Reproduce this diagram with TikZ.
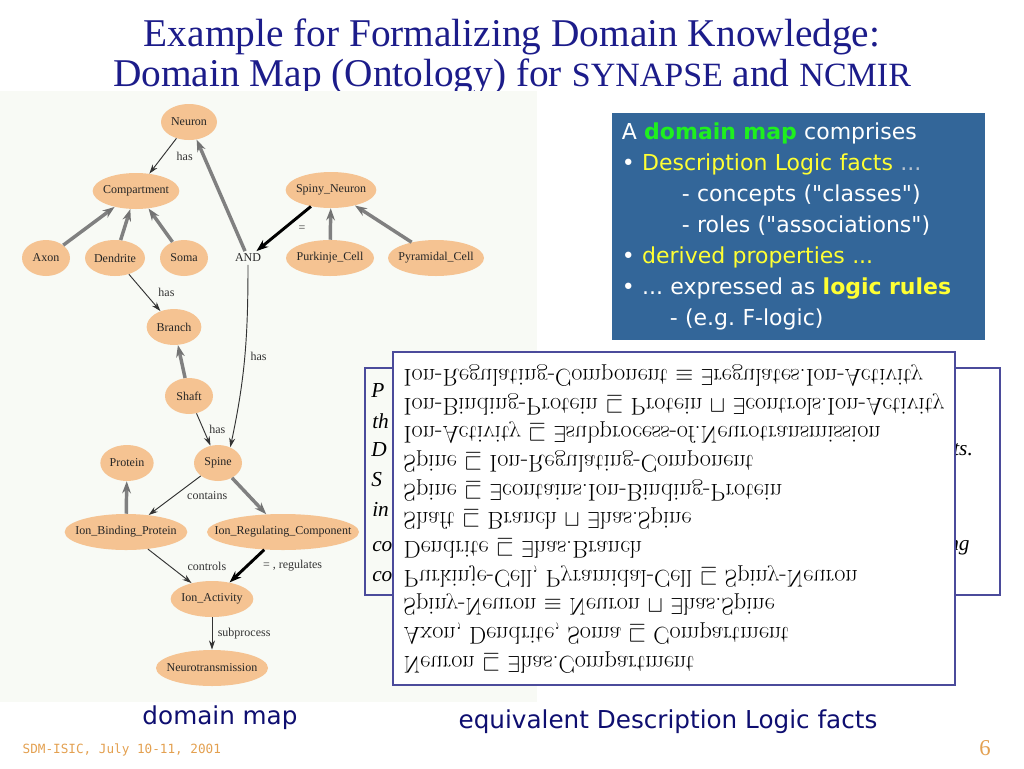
\documentclass[tikz,border=0pt]{standalone}
\usepackage{fontspec}
\usetikzlibrary{arrows.meta,shapes.geometric}
\newfontfamily\timesfont{Liberation Serif}
\newfontfamily\slidesans{DejaVu Sans}[Ligatures=TeXOff]
\newfontfamily\slidemono{DejaVu Sans Mono}
\definecolor{SMNavy}{HTML}{1C1C8A}
\definecolor{SMDeep}{HTML}{0E0E70}
\definecolor{SMBlue}{HTML}{336699}
\definecolor{SMLime}{HTML}{1EF01E}
\definecolor{SMYellow}{HTML}{FFFF33}
\definecolor{SMDots}{HTML}{B8C4D0}
\definecolor{SMPeach}{HTML}{F5C392}
\definecolor{SMGrey}{HTML}{808080}
\definecolor{SMFrame}{HTML}{4B4B9B}
\definecolor{SMOrange}{HTML}{E3A050}
\definecolor{SMPanel}{HTML}{F8FAF5}
\newcommand\cname[1]{\makebox[0pt]{#1}}
\frenchspacing
\tikzset{
  concept/.style={ellipse,fill=SMPeach,inner sep=0pt,minimum height=27pt,
                  font=\timesfont\fontsize{9}{10}\selectfont,text=black!85},
  andtext/.style={font=\timesfont\fontsize{9}{10}\selectfont,text=black!85,inner sep=2pt},
  rel/.style={-{Stealth[length=7pt,width=4.5pt]},line width=.7pt,black!80},
  isa/.style={-{Stealth[length=9pt,width=6.5pt,fill=SMGrey!85,color=black!55]},
              line width=2.6pt,SMGrey},
  eqv/.style={-{Stealth[length=9pt,width=6.5pt]},line width=2.2pt,black},
  lbl/.style={font=\timesfont\fontsize{9}{10}\selectfont,text=black!80,inner sep=1pt},
  titletext/.style={font=\timesfont\fontsize{29.5}{34}\selectfont,text=SMNavy,inner sep=0pt},
  infobox/.style={fill=SMBlue,text=white,inner xsep=7.5pt,align=left,
                  font=\slidesans\fontsize{16.5}{23.25}\selectfont},
  dlbox/.style={draw=SMFrame,line width=1.2pt,fill=white,inner sep=0pt,
                font=\fontsize{18.2}{21.5}\selectfont},
  backtext/.style={font=\timesfont\itshape\fontsize{16}{19}\selectfont,inner sep=0pt},
  caption/.style={font=\slidesans\fontsize{18.5}{22}\selectfont,text=SMDeep},
}

\begin{document}
\begin{tikzpicture}[x=.75pt,y=-.75pt]
  \useasboundingbox (0,0) rectangle (1024,768);

  % slide title
  \node[titletext,anchor=base] (title1) at (512,46) {Example for Formalizing Domain Knowledge:};
  \node[titletext,anchor=base] (title2) at (512,86)
    {Domain Map (Ontology) for {\fontsize{25.5}{28}\selectfont SYNAPSE} and {\fontsize{25.5}{28}\selectfont NCMIR}};

  % domain map
  \fill[SMPanel] (0,91) rectangle (537,702);
  \node[concept,minimum width=42pt] (neuron) at (189,122) {\cname{Neuron}};
  \node[concept,minimum width=65pt] (compartment) at (136,191) {\cname{Compartment}};
  \node[concept,minimum width=36pt] (axon) at (46,258) {\cname{Axon}};
  \node[concept,minimum width=45pt] (dendrite) at (115,258) {\cname{Dendrite}};
  \node[concept,minimum width=36pt] (soma) at (184,258) {\cname{Soma}};
  \node[andtext] (and) at (248,258) {AND};
  \node[concept,minimum width=68pt] (spiny) at (331,190) {\cname{Spiny\_Neuron}};
  \node[concept,minimum width=66pt] (purkinje) at (330,258) {\cname{Purkinje\_Cell}};
  \node[concept,minimum width=72pt] (pyramidal) at (436,258) {\cname{Pyramidal\_Cell}};
  \node[concept,minimum width=41pt] (branch) at (174,327) {\cname{Branch}};
  \node[concept,minimum width=36pt] (shaft) at (189,396) {\cname{Shaft}};
  \node[concept,minimum width=36pt] (spine) at (218,463) {\cname{Spine}};
  \node[concept,minimum width=40pt] (protein) at (127,463) {\cname{Protein}};
  \node[concept,minimum width=92pt] (ibp) at (126,532) {\cname{Ion\_Binding\_Protein}};
  \node[concept,minimum width=114pt] (irc) at (283,532) {\cname{Ion\_Regulating\_Component}};
  \node[concept,minimum width=62pt] (activity) at (212,599) {\cname{Ion\_Activity}};
  \node[concept,minimum width=84pt] (neurotrans) at (212,668) {\cname{Neurotransmission}};

  \draw[rel] (neuron) -- node[lbl,right=9pt]{has} (compartment);
  \draw[isa] (axon) -- (compartment);
  \draw[isa] (dendrite) -- (compartment);
  \draw[isa] (soma) -- (compartment);
  \draw[isa] (and) -- (neuron);
  \draw[eqv] (spiny) -- node[lbl,right=9pt]{=} (and);
  \draw[isa] (purkinje) -- (spiny);
  \draw[isa] (pyramidal) -- (spiny);
  \draw[rel] (dendrite) -- node[lbl,right=9pt]{has} (branch);
  \draw[rel] (and.south) to[out=-90,in=78] node[lbl,right=3pt,pos=.5]{has} (spine.52);
  \draw[isa] (shaft) -- (branch);
  \draw[rel] (shaft) -- node[lbl,right=3pt]{has} (spine);
  \draw[isa] (ibp) -- (protein);
  \draw[rel] (spine) -- node[lbl,right=8pt]{contains} (ibp);
  \draw[isa] (spine) -- (irc);
  \draw[rel] (ibp) -- node[lbl,right=12pt]{controls} (activity);
  \draw[eqv] (irc) -- node[lbl,right=10pt]{= , regulates} (activity);
  \draw[rel] (activity) -- node[lbl,right=3pt]{subprocess} (neurotrans);

  % what a domain map holds
  \node[infobox,minimum width=280pt,minimum height=170pt,text width=265pt] (info) at (798.5,226.5)
    {A \textbf{\color{SMLime}domain map} comprises\\
     \textbullet\ {\color{SMYellow}Description Logic facts} {\color{SMDots}...}\\
     \hspace*{45pt}- concepts ("classes")\\
     \hspace*{45pt}- roles ("associations")\\
     \textbullet\ {\color{SMYellow}derived properties ...}\\
     \textbullet\ ... expressed as \textbf{\color{SMYellow}logic rules}\\
     \hspace*{36pt}- (e.g. F-logic)};

  % slide text hidden behind the facts
  \draw[SMFrame,line width=.8pt] (365,368) rectangle (1000,595);
  \node[backtext,anchor=west] (hidP) at (371,391) {P};
  \node[backtext,anchor=west] (hidth) at (372,421) {th};
  \node[backtext,anchor=west] (hidD) at (371,450) {D};
  \node[backtext,anchor=west] (hidS) at (371,480) {S};
  \node[backtext,anchor=west] (hidin) at (372,509) {in};
  \node[backtext,anchor=west] (hidco) at (372,547) {co};
  \node[backtext,anchor=west] (hidco2) at (372,577) {co};
  \node[backtext,anchor=west] (hidts) at (953,450) {ts.};
  \node[backtext,anchor=west] (hidng) at (948,548) {ng};

  % description logic facts, printed flipped
  \node[dlbox,minimum width=421.5pt,minimum height=250pt] (facts) at (674,518.5)
    {\scalebox{1}[-1]{\begin{tabular}{@{}l@{}}
      Neuron $\sqsubseteq$ $\exists$has.Compartment\\
      Axon, Dendrite, Soma $\sqsubseteq$ Compartment\\
      Spiny-Neuron $\equiv$ Neuron $\sqcap$ $\exists$has.Spine\\
      Purkinje-Cell, Pyramidal-Cell $\sqsubseteq$ Spiny-Neuron\\
      Dendrite $\sqsubseteq$ $\exists$has.Branch\\
      Shaft $\sqsubseteq$ Branch $\sqcap$ $\exists$has.Spine\\
      Spine $\sqsubseteq$ $\exists$contains.Ion-Binding-Protein\\
      Spine $\sqsubseteq$ Ion-Regulating-Component\\
      Ion-Activity $\sqsubseteq$ $\exists$subprocess-of.Neurotransmission\\
      Ion-Binding-Protein $\sqsubseteq$ Protein $\sqcap$ $\exists$controls.Ion-Activity\\
      Ion-Regulating-Component $\equiv$ $\exists$regulates.Ion-Activity
    \end{tabular}}};

  % captions and footer
  \node[caption] (mapcap) at (220,718) {domain map};
  \node[caption] (factcap) at (668,722) {equivalent Description Logic facts};
  \node[anchor=west,text=SMOrange,font=\slidemono\fontsize{9.5}{11}\selectfont] (footer) at (18,750)
    {SDM-ISIC, July 10-11, 2001};
  \node[text=SMOrange,font=\timesfont\fontsize{17}{19}\selectfont] (pageno) at (985,748) {6};
\end{tikzpicture}
\end{document}
